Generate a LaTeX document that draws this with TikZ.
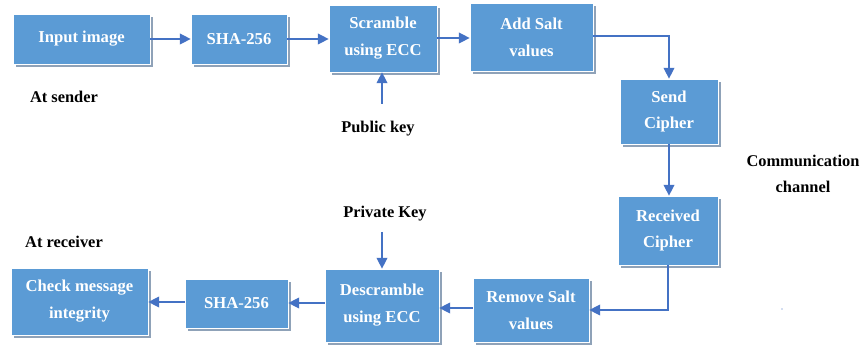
\documentclass[tikz,border=0pt]{standalone}
\usepackage{fontspec}
\setmainfont{Liberation Serif}
\usepackage{tikz}
\usetikzlibrary{arrows.meta,shadows}
\definecolor{boxblue}{HTML}{5B9BD5}
\definecolor{shadowgray}{HTML}{8FA2B8}
\definecolor{flowblue}{HTML}{4472C4}
\tikzset{
  stagebox/.style={draw=white, line width=0.6pt, fill=boxblue, text=white, align=center,
    font=\fontsize{14.2}{23}\selectfont\bfseries, inner sep=0pt,
    drop shadow={shadow xshift=0.09cm, shadow yshift=-0.09cm, fill=shadowgray, opacity=1}},
  plainlabel/.style={text=black, align=center, font=\fontsize{14}{22}\selectfont\bfseries, inner sep=0pt},
  flow/.style={draw=flowblue, line width=1.1pt, -{Triangle[length=3.2mm,width=3.2mm]}}
}

\begin{document}
\begin{tikzpicture}[x=0.03cm, y=-0.03cm]
			%%%%% START %%%%%
			\useasboundingbox (0, 0) rectangle (860, 348);
			
			% sender side
			\node[stagebox, minimum width=4.11cm, minimum height=1.5cm] (input) at (81.5, 39) {Input image};
			\node[stagebox, minimum width=2.88cm, minimum height=1.5cm] (shaA) at (239, 39) {SHA-256};
			\node[stagebox, minimum width=3.24cm, minimum height=2.01cm] (scramble) at (383, 38.5) {Scramble\\using ECC};
			\node[stagebox, minimum width=3.69cm, minimum height=2.04cm] (addsalt) at (531.5, 37) {Add Salt\\values};
			\node[stagebox, minimum width=2.94cm, minimum height=1.95cm] (send) at (669, 111.5) {Send\\Cipher};
			
			% receiver side
			\node[stagebox, minimum width=3.0cm, minimum height=2.07cm] (received) at (668, 230.5) {Received\\Cipher};
			\node[stagebox, minimum width=3.48cm, minimum height=1.92cm] (remove) at (531, 310) {Remove Salt\\values};
			\node[stagebox, minimum width=3.42cm, minimum height=2.19cm] (descramble) at (382, 305.5) {Descramble\\using ECC};
			\node[stagebox, minimum width=3.09cm, minimum height=1.47cm] (shaB) at (236.5, 303.5) {SHA-256};
			\node[stagebox, minimum width=4.11cm, minimum height=2.01cm] (check) at (79.5, 301.5) {Check message\\integrity};
			
			% labels
			\node[plainlabel] (sender) at (64, 97) {At sender};
			\node[plainlabel] (pubkey) at (378, 129) {Public key};
			\node[plainlabel] (channel) at (803, 174) {Communication\\channel};
			\node[plainlabel] (privkey) at (385, 214) {Private Key};
			\node[plainlabel] (receiver) at (64, 242) {At receiver};
			
			\coordinate (pubtail) at (382, 104);
			\coordinate (privtail) at (382, 232);
			
			% connectors
			\draw[flow] (input.east |- 0, 39) -- (shaA.west |- 0, 39);
			\draw[flow] (shaA.east |- 0, 39) -- (scramble.west |- 0, 39);
			\draw[flow] (scramble.east |- 0, 38) -- (addsalt.west |- 0, 38);
			\draw[flow] (addsalt.east |- 0, 36) -| (send.north);
			\draw[flow] (send.south) -- (received.north -| send.south);
			\draw[flow] (received.south) |- (remove.east);
			\draw[flow] (remove.west |- 0, 308) -- (descramble.east |- 0, 308);
			\draw[flow] (descramble.west |- 0, 303) -- (shaB.east |- 0, 303);
			\draw[flow] (shaB.west |- 0, 302) -- (check.east |- 0, 302);
			\draw[flow] (pubtail) -- (pubtail |- scramble.south);
			\draw[flow] (privtail) -- (privtail |- descramble.north);
			
			\fill[flowblue] (782, 309) circle (0.6);
			%%%%% END %%%%%
\end{tikzpicture}
\end{document}
